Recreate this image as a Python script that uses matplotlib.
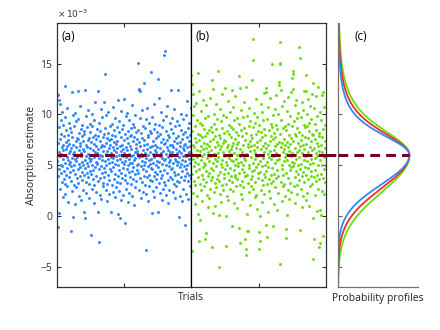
import numpy as np
import matplotlib
matplotlib.use('Agg')
import matplotlib.pyplot as plt

plt.rcParams['font.family'] = ['Open Sans', 'DejaVu Sans']

# absorption estimates per trial (units of 1e-3)
est_a = [
    12.0, 5.4, 11.9, 7.2, 3.9, -1.1, 6.3, 11.4, 4.6, 8.8, 0.3, 5.9, 11.0, 2.7, 7.6, 6.1, 9.4, 4.2, 5.0, 8.1, 3.3, 6.8, 10.2, 4.9, 7.0, 1.9, 5.6, 9.0, 6.5, 3.6,
    7.9, 4.4, 6.0, 2.2, 9.7, 5.2, 12.8, 3.1, 7.3, 6.6, 8.5, 4.0, 5.8, 10.6, 2.9, 6.9, 4.7, 8.0, 5.5, 1.4, 7.5, 6.2, 3.8, 9.2, 5.1, 7.1, 4.3, 6.4, 8.7, 5.3,
    4.9, 8.3, -1.5, 6.7, 3.4, 5.7, 12.2, 7.8, 2.5, 9.9, -0.1, 6.1, 4.5, 7.0, 5.0, 3.0, 8.9, 6.3, 1.2, 5.6, 10.1, 4.1, 7.4, 6.8, 2.8, 5.4, 9.3, 3.7, 7.7, 6.0,
    5.8, 3.2, 12.3, 7.6, 4.6, 9.5, 6.5, 2.0, 8.2, 5.1, 6.9, 3.9, 10.8, 4.8, 7.2, 5.9, 1.6, 8.6, 6.2, 4.3, 7.9, 5.3, 3.5, 9.0, 6.6, 2.6, 5.0, 7.4, 4.0, 8.4,
    6.4, 0.4, 8.1, 4.7, 12.4, 5.5, -0.2, 7.0, 3.3, 9.8, 5.9, 2.3, 6.8, 4.2, 8.8, 5.2, 7.5, 3.8, 10.4, 6.1, 4.9, 1.8, 7.7, 5.7, 3.1, 8.3, 6.7, 4.4, 9.1, 5.4,
    7.3, 4.1, 5.6, -1.9, 8.9, 6.0, 2.7, 10.0, 5.0, 7.8, 3.6, 6.5, 4.5, 9.4, 1.3, 5.8, 7.1, 3.0, 8.0, 6.3, 4.8, 11.2, 5.3, 2.4, 7.6, 6.9, 3.9, 8.6, 5.1, 6.2,
    5.2, 12.3, 7.9, 3.4, 0.4, 6.6, 4.6, -2.6, 9.2, 5.7, 2.1, 7.4, 6.0, 3.7, 8.4, 4.9, 10.5, 6.8, 1.7, 5.5, 7.0, 4.2, 9.7, 5.9, 3.2, 7.8, 6.4, 2.9, 8.1, 4.7,
    6.9, 11.2, 3.8, 14.0, 5.4, 8.7, 4.3, 7.2, 2.6, 6.1, 9.9, 5.0, 3.1, 7.7, 6.4, 1.5, 8.2, 5.6, 4.0, 10.2, 6.7, 3.5, 7.5, 5.2, 2.2, 8.9, 6.0, 4.6, 7.0, 5.8,
    4.4, 7.6, 6.2, 0.4, 9.1, 5.3, 3.0, 8.0, 6.8, 2.4, 5.7, 10.7, 4.8, 7.3, 3.6, 6.5, 8.5, 1.9, 5.1, 7.9, 4.1, 9.6, 6.3, 2.8, 5.9, 7.1, 3.3, 8.8, 5.5, 6.7,
    7.4, 11.4, 5.0, 3.9, 0.2, 8.3, 6.0, 2.5, 9.3, 4.5, -0.2, 6.9, 5.6, 3.2, 7.8, 10.3, 4.2, 6.4, 1.6, 8.6, 5.3, 3.7, 7.0, 5.9, 2.1, 9.0, 6.6, 4.7, 7.5, 5.1,
    11.5, 6.2, 3.5, -0.7, 8.1, 5.4, 4.0, 9.8, 6.8, 2.7, 5.8, 7.7, 3.2, 10.1, 4.6, 6.5, 1.4, 8.4, 5.0, 7.2, 4.3, 9.4, 6.1, 2.3, 5.6, 7.9, 3.8, 6.9, 5.2, 8.7,
    5.9, 3.1, 8.0, 6.6, 4.4, 10.9, 5.2, 2.0, 7.4, 6.0, 9.1, 4.8, 3.6, 7.8, 5.5, 1.1, 8.8, 6.3, 4.1, 9.9, 5.7, 2.8, 7.1, 6.7, 3.4, 8.3, 5.0, 4.5, 7.6, 6.2,
    6.4, 15.1, 4.2, 8.5, 5.1, 12.45, 2.6, 7.3, 12.5, 5.8, 9.6, 3.7, 12.3, 6.9, 4.9, 8.2, 1.8, 6.1, 10.4, 5.4, 3.3, 7.7, 5.9, 2.4, 8.9, 6.5, 4.6, 7.0, 5.0, 3.9,
    7.5, 13.1, 5.3, 3.0, 8.7, 6.2, -3.4, 4.4, 9.5, 5.7, 2.2, 7.1, 6.6, 3.8, 10.6, 4.9, 8.0, 1.5, 6.0, 7.8, 4.0, 5.5, 9.2, 2.9, 6.8, 5.1, 3.5, 8.4, 6.3, 4.7,
    5.6, 14.2, 8.2, 3.4, 0.3, 6.9, 4.6, 9.7, 5.2, 2.5, 7.4, 6.1, 11.0, 3.9, 8.6, 5.8, 1.9, 7.0, 4.3, 6.5, 9.1, 5.0, 2.8, 7.7, 6.3, 3.6, 8.3, 5.4, 4.1, 6.8,
    6.0, 13.5, 4.8, 0.4, 7.9, 11.6, 5.3, 3.2, 9.0, 6.7, 2.3, 5.9, 8.1, 4.4, 10.2, 6.2, 3.7, 7.3, 5.1, 1.6, 8.8, 5.7, 4.0, 7.6, 6.4, 2.7, 9.4, 5.5, 3.3, 7.1,
    4.5, 15.8, 7.2, 16.2, 5.6, 3.0, 8.4, 6.1, 2.1, 9.8, 5.0, 7.5, 4.2, 6.8, 10.8, 3.5, 5.8, 8.0, 1.3, 6.5, 4.9, 7.8, 5.3, 2.6, 9.2, 6.3, 3.8, 7.0, 5.5, 4.6,
    8.6, 12.4, 5.9, 3.6, 7.0, 4.7, 9.6, 6.3, 2.4, 5.2, 8.2, 6.8, 3.1, 10.5, 4.3, 7.4, 5.6, 1.8, 6.0, 8.9, 4.0, 7.7, 5.4, 2.9, 6.6, 9.3, 3.4, 5.0, 7.2, 6.2,
    5.3, 7.9, 12.4, 4.1, -0.1, 6.4, 9.0, 3.3, 5.8, 7.3, 2.0, 6.9, 4.8, 10.0, 5.1, 8.5, 3.8, 6.2, 1.5, 7.6, 5.5, 4.4, 9.5, 6.7, 2.7, 5.9, 8.1, 3.5, 7.0, 4.9,
    6.5, 3.9, 8.3, -0.9, 5.4, 7.1, 4.6, 9.9, 5.9, 2.2, 6.8, 11.3, 4.2, 7.8, 5.0, 3.4, 8.7, 6.1, 1.7, 5.6, 7.4, 4.0, 9.2, 6.3, 2.9, 5.2, 8.0, 6.9, 3.7, 10.6,
]

est_b = [
    13.9, 6.2, 13.0, -3.5, 8.4, 4.1, 12.0, 7.0, 2.3, 5.6, 9.9, 3.4, 6.8, 10.8, 4.9, 1.2, 7.7, 5.3, 8.9, 3.0, 6.0, 11.1, 4.4, 7.3, 2.0, 5.8, 9.4, 6.5, 3.8, 8.1,
    5.1, 14.1, 0.2, 7.5, -2.5, 4.6, 12.3, 9.2, 3.1, 6.4, -0.4, 8.0, 5.5, 2.6, 10.3, 6.9, 4.0, 7.8, 1.5, 5.9, 9.0, 3.6, 6.6, 11.4, 4.8, 7.2, 2.9, 8.6, 5.2, 6.1,
    7.9, -2.3, 5.0, 9.6, 3.3, -1.7, 6.7, 4.4, 10.9, 8.2, 2.1, 5.7, 7.1, 0.9, 6.3, 9.8, 3.9, 5.4, 8.5, 1.8, 6.9, 4.2, 11.6, 7.4, 2.7, 5.9, 8.8, 3.5, 6.0, 4.7,
    6.5, 13.4, 3.8, -3.1, 8.3, 12.5, 5.2, 0.3, 7.6, 4.5, 10.0, 2.4, 6.1, 9.1, 5.6, 1.0, 7.9, 3.2, 6.8, 11.0, 4.9, 8.6, 2.8, 5.4, 7.3, 3.6, 9.5, 6.2, 4.0, 7.0,
    14.3, 5.8, -5.0, 8.0, 3.4, 0.1, 6.6, 10.5, 4.3, 7.7, 2.2, 5.1, 9.3, 6.9, 1.4, 4.8, 8.7, 3.0, 12.0, 5.5, 7.2, 2.6, 6.3, 9.9, 4.1, 7.5, 3.7, 5.9, 8.2, 6.0,
    4.6, 12.6, 7.4, -3.0, 5.3, 9.7, 0.0, 3.1, 6.8, 8.4, 2.0, 5.0, 11.3, 7.0, 4.2, 1.6, 6.4, 9.0, 3.5, 5.7, 8.1, 2.7, 10.2, 6.1, 4.7, 7.8, 3.9, 5.5, 8.8, 6.6,
    6.9, 12.4, 3.3, -1.0, 8.6, 5.4, 2.5, 7.2, 10.7, 4.5, 6.2, 1.3, 9.4, 5.0, 3.8, 7.6, 11.8, 4.0, 6.7, 2.9, 8.3, 5.6, 0.8, 7.1, 9.6, 3.6, 6.0, 4.9, 8.0, 5.2,
    7.3, 13.8, 4.2, -1.2, 9.1, 5.9, -2.7, 3.0, 12.6, 6.6, 8.5, 2.2, 5.3, 10.4, 4.6, 7.9, 1.7, 6.3, 3.4, 9.7, 5.0, 7.0, 2.8, 8.7, 6.0, 4.3, 11.2, 5.7, 3.9, 7.5,
    5.5, -2.3, 8.2, 12.7, -3.8, 6.1, -3.3, 4.0, -1.5, 9.8, 0.2, 7.1, -1.5, 3.2, 6.8, 10.6, 5.0, 2.4, 8.9, 4.7, 7.4, 1.1, 6.4, 9.3, 3.6, 5.8, 8.0, 2.9, 6.9, 4.4,
    7.7, 3.9, 13.4, 5.2, 17.4, 8.8, 15.4, 2.7, 6.5, 4.5, 10.1, 7.0, 1.9, 5.6, 9.2, 3.3, 6.2, 11.5, 4.8, 8.1, 2.1, 7.3, 5.9, 0.7, 9.7, 6.8, 3.7, 5.1, 8.4, 4.2,
    6.0, -1.6, 9.0, -3.3, 4.3, 0.0, 7.5, -2.5, 5.4, 11.0, 2.6, 8.3, 6.6, 3.5, 10.2, 4.9, 1.4, 7.8, 5.7, 9.4, 3.0, 6.9, 12.1, 4.1, 8.6, 2.2, 6.3, 7.2, 5.0, 3.8,
    8.0, 12.6, 4.4, -0.9, 12.2, 6.7, -2.1, 3.1, 9.5, 5.3, 7.0, 0.4, 10.7, 4.8, 6.1, 2.5, 8.5, 5.8, 3.6, 11.6, 7.4, 1.8, 6.4, 9.1, 4.0, 5.6, 7.9, 3.2, 6.0, 8.8,
    4.7, 15.0, 7.6, -1.0, 5.9, 9.9, 3.4, 6.5, 1.2, 8.2, 4.1, 10.5, 6.9, 2.8, 5.2, 7.8, 11.9, 3.7, 6.2, 9.0, 0.6, 5.5, 8.6, 4.5, 7.1, 2.3, 10.0, 6.0, 3.9, 7.3,
    13.2, 5.6, 12.9, 15.0, -4.7, 8.1, 17.1, 15.1, 12.4, 3.3, 6.8, 9.4, 4.6, 7.2, 1.5, 5.0, 10.8, 6.3, 2.9, 8.7, 4.0, 7.6, 5.4, 11.3, 3.1, 6.6, 8.9, 2.0, 5.8, 7.0,
    6.1, -2.2, 8.5, -1.3, 4.2, 10.3, 0.1, 7.3, 5.5, 2.6, 9.1, 6.8, 3.7, 11.7, 5.0, 8.0, 1.7, 6.4, 4.5, 9.8, 7.1, 3.2, 5.9, 12.2, 4.8, 7.7, 2.4, 6.2, 8.9, 5.3,
    13.6, 7.4, 14.3, 4.9, 14.0, 12.5, 6.0, 2.9, 9.3, 5.2, 8.1, 3.8, 10.9, 6.7, 1.3, 4.4, 7.9, 5.6, 11.4, 3.0, 8.7, 6.3, 2.2, 9.6, 5.0, 7.2, 4.1, 10.1, 6.5, 3.5,
    5.8, 16.6, 8.3, 15.6, -1.4, 4.6, 6.9, 9.7, 2.7, 7.5, 5.1, 11.2, 3.9, 8.0, 0.9, 6.2, 10.4, 4.3, 7.0, 2.0, 5.5, 9.0, 6.6, 3.3, 12.3, 7.8, 4.8, 8.8, 5.9, 1.6,
    7.1, 13.9, 4.0, 12.3, 8.9, 5.4, 2.3, 10.0, 6.3, 3.6, 7.7, 11.5, 4.7, 9.2, 1.0, 6.0, 8.4, 5.1, 2.9, 10.8, 6.8, 3.9, 7.4, 5.6, 9.5, 4.4, 6.5, 12.0, 3.1, 8.1,
    5.2, 13.1, -0.2, 8.0, -4.2, 6.7, -2.3, 3.8, 10.6, 5.7, 7.6, 2.1, 9.1, 4.5, 6.2, 11.8, 3.4, 8.5, 0.5, 5.9, 7.2, 4.0, 9.8, 6.9, 2.7, 5.0, 12.7, 7.9, 3.6, 6.4,
    8.2, -3.1, 5.5, -2.7, 10.2, 0.6, 7.0, 4.1, 0.1, 9.4, 6.3, 2.5, 11.9, 5.0, 7.8, -2.0, 12.2, 3.7, 8.6, 6.0, 4.6, 10.7, 5.8, 2.2, 7.4, 9.0, 3.3, 6.7, 14.6, 4.9,
]

true_value = 6.0
prof_names = ['blue', 'red', 'green']
prof_colors = ['#3088ff', '#ec3416', '#6cdc12']
# profile widths above (heavier tail) and below the peak
prof_scale_up = [2.25, 2.55, 2.85]
prof_sig_down = [2.9, 3.3, 3.7]
yticks = [-5, 0, 5, 10, 15]
ylim = (-7, 19)

dash_col = '#750022'
spine_col = '#303030'

fig = plt.figure(figsize=(4.4, 3.3), dpi=100)
W, H = 440, 330
ax_a = fig.add_axes([57 / W, 43 / H, 134 / W, 264 / H])
ax_b = fig.add_axes([191 / W, 43 / H, 135 / W, 264 / H])
ax_c = fig.add_axes([338 / W, 43 / H, 80 / W, 264 / H])

for ax, est, col in [(ax_a, est_a, '#3088ff'), (ax_b, est_b, '#6cdc12')]:
    x = np.arange(1, len(est) + 1)
    ax.scatter(x, est, s=4.5, c=col, marker='o', linewidths=0, zorder=2)
    ax.axhline(true_value, color=dash_col, lw=2.2, dashes=(3.2, 2.0), zorder=3)
    ax.set_xlim(0, len(est) + 1)
    ax.set_ylim(*ylim)
    ax.set_xticks([(len(est) + 1) / 2])
    ax.set_xticklabels([])
    ax.set_yticks(yticks)
    ax.tick_params(direction='in', length=3, width=0.8, colors=spine_col,
                   top=True, labelsize=7.5)
    for s in ax.spines.values():
        s.set_color(spine_col)
        s.set_linewidth(0.9)

ax_a.set_ylabel('Absorption estimate', fontsize=7.5, color='#222222', labelpad=2)
ax_a.spines['right'].set_color('black')
ax_b.spines['left'].set_color('black')
ax_b.tick_params(axis='y', left=False, right=True, labelleft=False)
ax_a.text(0.035, 0.975, '(a)', transform=ax_a.transAxes, ha='left', va='top', fontsize=8.5)
ax_b.text(0.035, 0.975, '(b)', transform=ax_b.transAxes, ha='left', va='top', fontsize=8.5)
ax_a.text(0.0, 1.012, r'$\times\,10^{-3}$', transform=ax_a.transAxes, ha='left',
          va='bottom', fontsize=6.5, color='#333333')
fig.text(191 / W, 1 - 298 / H, 'Trials', ha='center', va='center', fontsize=7.5, color='#222222')

# probability profiles
yy = np.linspace(ylim[0], ylim[1], 600)
for col, su, sd in zip(prof_colors[::-1], prof_scale_up[::-1], prof_sig_down[::-1]):
    d = yy - true_value
    upper = (1 + d ** 2 / (3 * su ** 2)) ** -2
    lower = np.exp(-0.5 * (d / sd) ** 2)
    pdf = np.where(d > 0, upper, lower)
    ax_c.plot(pdf, yy, color=col, lw=1.3, zorder=2)
ax_c.plot([0, 1], [true_value, true_value], color=dash_col, lw=2.2, dashes=(3.2, 2.0),
          zorder=3, clip_on=False)
ax_c.set_xlim(0, 1.12)
ax_c.set_ylim(*ylim)
ax_c.set_yticks(yticks)
ax_c.set_yticklabels([])
ax_c.set_xticks([])
ax_c.tick_params(direction='in', length=3, width=0.8, colors='#606060')
for side in ['top', 'right']:
    ax_c.spines[side].set_visible(False)
for side in ['left', 'bottom']:
    ax_c.spines[side].set_color('#707070')
    ax_c.spines[side].set_linewidth(0.9)
ax_c.text(0.2, 0.975, '(c)', transform=ax_c.transAxes, ha='left', va='top', fontsize=8.5)
fig.text(378 / W, 1 - 298 / H, 'Probability profiles', ha='center', va='center',
         fontsize=7.5, color='#222222')

# dash continues across the gap between (b) and (c)
y_dash = ax_c.transData.transform((0, true_value))[1] / H
fig.add_artist(plt.Line2D([326 / W, 338 / W], [y_dash, y_dash],
                          color=dash_col, lw=2.2, dashes=(3.2, 2.0)))

fig.savefig('out.png', dpi=100)
